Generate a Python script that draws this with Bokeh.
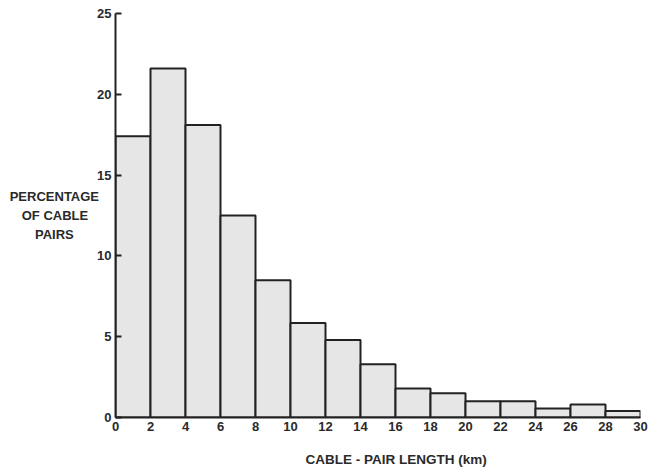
from bokeh.plotting import figure
from bokeh.models import Range1d, FixedTicker, ColumnDataSource, Title
from bokeh.embed import file_html
from bokeh.resources import INLINE

# Data: bin edges (km) and percentage of cable pairs in each bin
bin_left = [0, 2, 4, 6, 8, 10, 12, 14, 16, 18, 20, 22, 24, 26, 28]
bin_right = [2, 4, 6, 8, 10, 12, 14, 16, 18, 20, 22, 24, 26, 28, 30]
percent = [17.4, 21.6, 18.1, 12.5, 8.5, 5.85, 4.8, 3.3, 1.8, 1.5, 1.0, 1.0, 0.55, 0.8, 0.4]
x_ticks = list(range(0, 31, 2))
y_ticks = [0, 5, 10, 15, 20, 25]

FONT = "Liberation Sans"
INK = "#222222"
TXT = "#2a2a2a"
NB = "\u00a0"

p = figure(frame_width=525, frame_height=404,
           min_border_left=115, min_border_right=18,
           min_border_top=13, min_border_bottom=55,
           x_range=Range1d(0, 30), y_range=Range1d(0, 25),
           output_backend="svg", toolbar_location=None,
           background_fill_color="white", border_fill_color="white")
p.outline_line_color = None
p.grid.visible = False

src = ColumnDataSource(dict(left=bin_left, right=bin_right, top=percent,
                            bottom=[0] * len(percent)))
p.quad(left="left", right="right", top="top", bottom="bottom", source=src,
       fill_color="#e6e6e6", line_color=INK, line_width=2)

for ax in (p.xaxis[0], p.yaxis[0]):
    ax.axis_line_color = INK
    ax.axis_line_width = 2
    ax.major_label_text_font = FONT
    ax.major_label_text_font_style = "bold"
    ax.major_label_text_font_size = "13px"
    ax.major_label_text_color = TXT
    ax.minor_tick_line_color = None
    ax.major_label_standoff = 4

p.xaxis.ticker = FixedTicker(ticks=x_ticks)
p.xaxis.major_tick_line_color = None
p.xaxis.major_tick_in = 0
p.xaxis.major_tick_out = 0

p.yaxis.ticker = FixedTicker(ticks=y_ticks)
p.yaxis.major_tick_line_color = INK
p.yaxis.major_tick_line_width = 2
p.yaxis.major_tick_in = 6
p.yaxis.major_tick_out = 0

p.yaxis.axis_label = "PERCENTAGE\nOF CABLE" + NB * 3 + "\nPAIRS" + NB * 7
p.yaxis.axis_label_orientation = "horizontal"
p.yaxis.axis_label_text_font = FONT
p.yaxis.axis_label_text_font_style = "bold"
p.yaxis.axis_label_text_font_size = "13px"
p.yaxis.axis_label_text_color = TXT
p.yaxis.axis_label_text_line_height = 1.25
p.yaxis.axis_label_standoff = -5

xt = Title(text="CABLE - PAIR LENGTH (km)", align="left", offset=190,
           text_font=FONT, text_font_style="bold", text_font_size="13.5px",
           text_color=TXT, standoff=33)
p.add_layout(xt, "below")

open("out.html", "w").write(file_html(p, INLINE))
